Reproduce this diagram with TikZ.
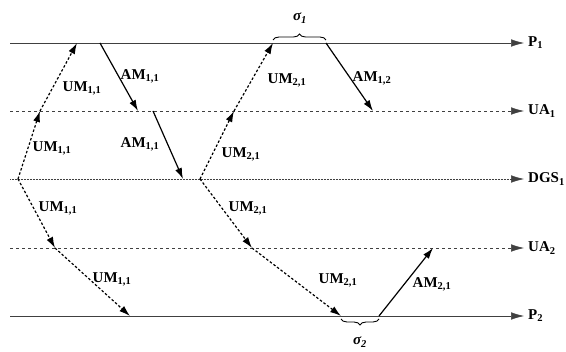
\documentclass[tikz,border=0pt]{standalone}
\usepackage{fontspec}
\setmainfont{Liberation Serif}
\usetikzlibrary{arrows.meta,decorations.pathreplacing}
\newcommand{\sbs}[1]{\textsubscript{#1}}

\begin{document}
\begin{tikzpicture}[x=1pt,y=-1pt,
  font=\fontsize{15}{17}\selectfont\bfseries,>={Latex[length=11pt,width=7pt]},
  lane/.style={-{Latex[length=13pt,width=7.5pt]}, line width=0.5pt, color=black!75},
  um/.style={->, line width=1.2pt, dash pattern=on 2.5pt off 2pt},
  am/.style={->, line width=1.2pt},
  lbl/.style={inner sep=1pt},
  brc/.style={decorate, decoration={brace, amplitude=6pt}, line width=0.9pt},
]
\useasboundingbox (0,0) rectangle (566,352);
% lanes
\foreach \n/\y/\t/\d in {p1/43/{P\sbs{1}}/solid, ua1/111/{UA\sbs{1}}/dashed, dgs/179/{DGS\sbs{1}}/densely dotted, ua2/248/{UA\sbs{2}}/dashed, p2/316/{P\sbs{2}}/solid}
 {\coordinate (\n-l) at (10,\y); \coordinate (\n-r) at (524,\y);
  \node[lbl,anchor=west,inner sep=0pt] (\n) at (528,\y) {\t};
  \draw[lane,\d] (\n-l) -- (\n-r);}
% crossing points
\coordinate (s1) at (18,179);  \coordinate (a1) at (40,111);  \coordinate (b1) at (77,43);
\coordinate (c1) at (55,248);  \coordinate (d1) at (130,316);
\coordinate (e1) at (100,43);  \coordinate (f1) at (138,111);
\coordinate (g1) at (153,111); \coordinate (h1) at (183,179);
\coordinate (s2) at (200,179); \coordinate (a2) at (234,111); \coordinate (b2) at (273,43);
\coordinate (c2) at (252,248); \coordinate (d2) at (341,316);
\coordinate (e2) at (326,43);  \coordinate (f2) at (373,111);
\coordinate (g2) at (379,316); \coordinate (h2) at (433,248);
% update messages
\draw[um] (s1) -- (a1); \draw[um] (a1) -- (b1);
\draw[um] (s1) -- (c1); \draw[um] (c1) -- (d1);
\draw[um] (s2) -- (a2); \draw[um] (a2) -- (b2);
\draw[um] (s2) -- (c2); \draw[um] (c2) -- (d2);
% ack messages
\draw[am] (e1) -- (f1); \draw[am] (g1) -- (h1);
\draw[am] (e2) -- (f2);
\draw[am] (g2) -- (h2);
% labels
\node[lbl] (um1a) at (82,88) {UM\sbs{1,1}};
\node[lbl] (um1b) at (52,148) {UM\sbs{1,1}};
\node[lbl] (um1c) at (58,208) {UM\sbs{1,1}};
\node[lbl] (um1d) at (112,279) {UM\sbs{1,1}};
\node[lbl] (am1a) at (140,76) {AM\sbs{1,1}};
\node[lbl] (am1b) at (140,144) {AM\sbs{1,1}};
\node[lbl] (um2a) at (287,80) {UM\sbs{2,1}};
\node[lbl] (um2b) at (241,154) {UM\sbs{2,1}};
\node[lbl] (um2c) at (248,208) {UM\sbs{2,1}};
\node[lbl] (um2d) at (338,280) {UM\sbs{2,1}};
\node[lbl] (am12) at (372,78) {AM\sbs{1,2}};
\node[lbl] (am21) at (432,284) {AM\sbs{2,1}};
% waiting intervals
\coordinate (bl1) at (273,40); \coordinate (br1) at (326,40);
\coordinate (bl2) at (341,319); \coordinate (br2) at (379,319);
\draw[brc] (bl1) -- (br1);
\draw[brc] (br2) -- (bl2);
\node[lbl] (sg1) at (300,18) {\itshape σ\sbs{1}};
\node[lbl] (sg2) at (360,342) {\itshape σ\sbs{2}};
\end{tikzpicture}
\end{document}
